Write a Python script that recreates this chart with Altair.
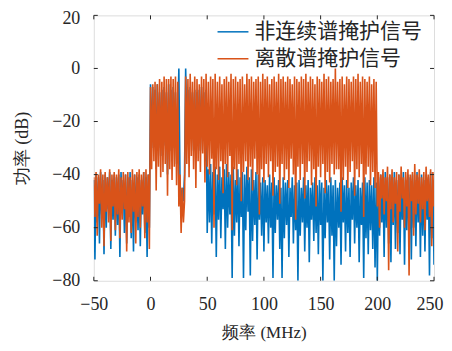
import altair as alt
import pandas as pd

# frequency grid (MHz), 1 MHz steps
freq = list(range(-50, 251))

# 非连续谱掩护信号 (blue), dB
blue_db = [
    -42, -72, -40, -58, -41, -66, -39, -55, -42, -70,
    -40, -60, -41, -53, -39, -68, -42, -57, -40, -63,
    -41, -59, -40, -71, -39, -54, -42, -62, -40, -66,
    -41, -56, -39, -64, -42, -69, -40, -58, -41, -61,
    -40, -67, -42, -55, -39, -62, -41, -71, -40, -60,
    -6, -30, -7, -28, -8, -38, -6, -30, -9, -33,
    -8, -32, -7, -29, -9, -40, -6, -31, -8, -35,
    -7, -30, -9, -36, -20, 0, -42, -52, -45, -50,
    -40, 0, -22, -8, -30, -7, -25, -9, -31, -8,
    -33, -9, -27, -8, -31, -7, -26, -9, -35, -8,
    -62, -38, -58, -36, -66, -39, -55, -37, -71, -40,
    -57, -37, -64, -41, -53, -38, -68, -36, -60, -39,
    -55, -40, -79, -37, -63, -42, -58, -38, -67, -41,
    -56, -39, -79, -40, -61, -37, -54, -41, -78, -38,
    -65, -42, -59, -39, -72, -40, -57, -43, -63, -41,
    -69, -42, -58, -44, -66, -40, -60, -43, -79, -41,
    -62, -44, -57, -42, -68, -45, -79, -41, -64, -43,
    -59, -42, -71, -45, -56, -41, -66, -44, -61, -43,
    -80, -42, -63, -45, -58, -41, -69, -44, -60, -42,
    -73, -45, -57, -43, -65, -41, -62, -44, -70, -42,
    -59, -43, -80, -45, -64, -42, -58, -44, -72, -41,
    -63, -44, -80, -42, -67, -45, -60, -43, -74, -41,
    -58, -44, -69, -42, -62, -45, -71, -43, -57, -41,
    -66, -44, -60, -42, -73, -45, -59, -43, -79, -41,
    -64, -43, -70, -42, -61, -44, -68, -41, -75, -43,
    -80, -41, -63, -40, -58, -42, -71, -39, -60, -41,
    -66, -40, -73, -41, -59, -39, -68, -42, -62, -40,
    -70, -41, -57, -39, -74, -42, -61, -40, -65, -41,
    -72, -40, -60, -42, -67, -39, -58, -41, -71, -40,
    -63, -42, -69, -40, -57, -41, -78, -39, -64, -42,
    -74,
]

# 离散谱掩护信号 (orange), dB
orange_db = [
    -41, -56, -39, -63, -40, -51, -38, -60, -40, -67,
    -39, -54, -41, -58, -38, -65, -40, -52, -39, -61,
    -40, -55, -38, -64, -41, -57, -39, -53, -40, -69,
    -39, -58, -41, -62, -38, -54, -40, -66, -39, -56,
    -38, -60, -40, -52, -39, -64, -38, -58, -40, -68,
    -7, -38, -6, -35, -5, -46, -6, -37, -4, -41,
    -5, -39, -3, -36, -4, -48, -4, -38, -3, -42,
    -4, -37, -3, -44, -5, -52, -40, -62, -45, -58,
    -50, -3, -36, -4, -41, -2, -33, -5, -38, -3,
    -45, -4, -35, -6, -39, -3, -32, -4, -43, -2,
    -37, -5, -40, -3, -34, -4, -60, -2, -38, -5,
    -42, -3, -35, -6, -47, -4, -36, -3, -41, -5,
    -33, -2, -61, -4, -38, -3, -44, -5, -36, -4,
    -50, -3, -39, -6, -35, -2, -42, -4, -37, -3,
    -46, -5, -34, -4, -40, -3, -55, -5, -38, -2,
    -43, -4, -36, -3, -41, -6, -35, -4, -48, -3,
    -39, -5, -37, -2, -51, -4, -36, -3, -42, -5,
    -38, -3, -45, -4, -34, -6, -40, -3, -57, -4,
    -37, -5, -42, -3, -36, -4, -49, -2, -39, -5,
    -35, -3, -44, -4, -38, -6, -52, -3, -37, -4,
    -41, -5, -36, -2, -47, -4, -39, -3, -43, -5,
    -36, -4, -40, 0, -38, -5, -38, -4, -54, -3,
    -42, -6, -37, -3, -45, -4, -39, -5, -35, -3,
    -48, -4, -38, -2, -41, -5, -36, -3, -56, -4,
    -40, -5, -37, -3, -44, -6, -39, -4, -45, -5,
    -52, -39, -60, -40, -49, -38, -55, -41, -50, -37,
    -76, -40, -53, -38, -58, -41, -51, -39, -69, -40,
    -54, -37, -49, -41, -60, -39, -52, -38, -78, -40,
    -50, -39, -63, -36, -55, -40, -51, -38, -58, -41,
    -53, -39, -61, -37, -50, -40, -56, -38, -67, -39,
    -52,
]

series_names = ["非连续谱掩护信号", "离散谱掩护信号"]
series_colors = ["#0072BD", "#D95319"]
x_ticks = [-50, 0, 50, 100, 150, 200, 250]
y_ticks = [-80, -60, -40, -20, 0, 20]

W, H = 341, 266
AXC = "#262626"
SERIF = "Liberation Serif"
CJK = "Noto Sans CJK SC"

df_blue = pd.DataFrame({"f": freq, "p": blue_db, "s": series_names[0]})
df_orange = pd.DataFrame({"f": freq, "p": orange_db, "s": series_names[1]})

xscale = alt.Scale(domain=[-50, 250], nice=False, zero=False)
yscale = alt.Scale(domain=[-80, 20], nice=False, zero=False)

color = alt.Color(
    "s:N",
    scale=alt.Scale(domain=series_names, range=series_colors),
    legend=alt.Legend(
        title=None,
        orient="none",
        legendX=123,
        legendY=0,
        symbolType="stroke",
        symbolSize=961,
        symbolStrokeWidth=1.5,
        labelFont=CJK,
        labelFontSize=21,
        labelColor=AXC,
        labelOffset=5,
        labelLimit=0,
        rowPadding=-6,
    ),
)

last_x = x_ticks[-1]
top_y = y_ticks[-1]
xaxis = alt.Axis(
    values=x_ticks, ticks=False, domain=False, grid=False,
    labelFont=SERIF, labelFontSize=18, labelColor=AXC, labelPadding=15,
    labelAlign={"condition": {"test": f"datum.value == {last_x}", "value": "right"},
                "value": "center"},
    labelOffset={"condition": {"test": f"datum.value == {last_x}", "value": 9},
                 "value": 0},
    title="频率 (MHz)", titleFont=SERIF, titleFontSize=17, titleFontWeight="normal",
    titleColor=AXC, titlePadding=11,
)
yaxis = alt.Axis(
    values=y_ticks, ticks=False, domain=False, grid=False,
    labelFont=SERIF, labelFontSize=18, labelColor=AXC, labelPadding=14,
    labelOffset={"condition": {"test": f"datum.value == {top_y}", "value": 3},
                 "value": 0},
    title="功率 (dB)", titleFont=SERIF, titleFontSize=18, titleFontWeight="normal",
    titleColor=AXC, titlePadding=20,
)

line_blue = alt.Chart(df_blue).mark_line(
    strokeWidth=1.6, strokeJoin="bevel", clip=True
).encode(
    x=alt.X("f:Q", scale=xscale, axis=xaxis),
    y=alt.Y("p:Q", scale=yscale, axis=yaxis),
    color=color,
)
line_orange = alt.Chart(df_orange).mark_line(
    strokeWidth=1.6, strokeJoin="bevel", clip=True
).encode(
    x=alt.X("f:Q", scale=xscale),
    y=alt.Y("p:Q", scale=yscale),
    color=color,
)

xt = pd.DataFrame({"t": x_ticks})
yt = pd.DataFrame({"t": y_ticks})
TL = 4
tick_bottom = alt.Chart(xt).mark_rule(color=AXC, strokeWidth=1).encode(
    x=alt.X("t:Q", scale=xscale), y=alt.value(H), y2=alt.value(H - TL))
tick_top = alt.Chart(xt).mark_rule(color=AXC, strokeWidth=1).encode(
    x=alt.X("t:Q", scale=xscale), y=alt.value(0), y2=alt.value(TL))
tick_left = alt.Chart(yt).mark_rule(color=AXC, strokeWidth=1).encode(
    y=alt.Y("t:Q", scale=yscale), x=alt.value(0), x2=alt.value(TL))
tick_right = alt.Chart(yt).mark_rule(color=AXC, strokeWidth=1).encode(
    y=alt.Y("t:Q", scale=yscale), x=alt.value(W), x2=alt.value(W - TL))

chart = alt.layer(
    line_blue, line_orange, tick_bottom, tick_top, tick_left, tick_right
).properties(
    width=W, height=H,
    autosize=alt.AutoSizeParams(type="none"),
    padding={"left": 86, "top": 7, "right": 10, "bottom": 62},
).configure_view(
    stroke=AXC, strokeWidth=1.2
).configure(background="white")

chart.save("out.html", embed_options={"renderer": "svg", "actions": False})
